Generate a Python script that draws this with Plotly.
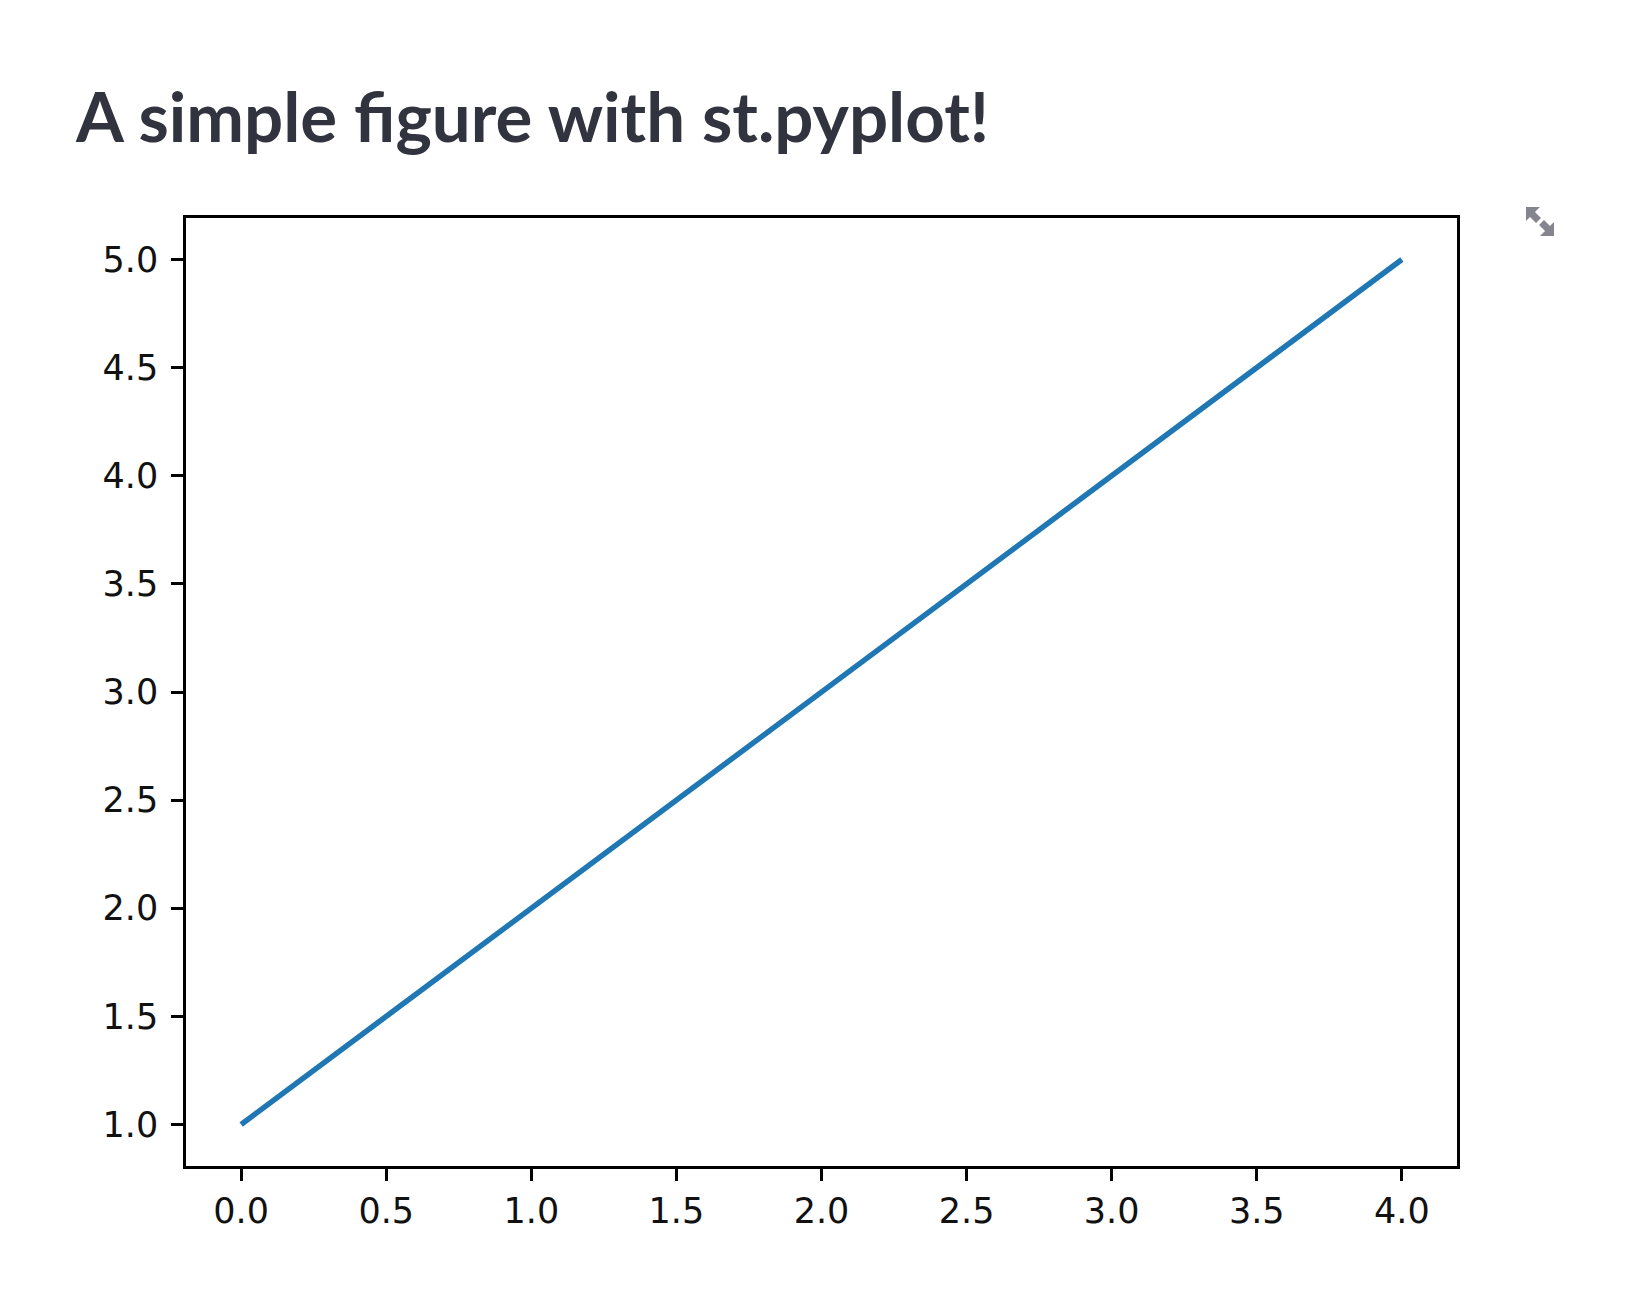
import plotly.graph_objects as go

x_values = [0, 1, 2, 3, 4]
y_values = [1, 2, 3, 4, 5]
x_ticks = [0.0, 0.5, 1.0, 1.5, 2.0, 2.5, 3.0, 3.5, 4.0]
y_ticks = [1.0, 1.5, 2.0, 2.5, 3.0, 3.5, 4.0, 4.5, 5.0]
title_text = "A simple figure with st.pyplot!"

WIDTH = 1635
HEIGHT = 1294
LEFT, RIGHT, TOP, BOTTOM = 178, 186, 210, 136

fig = go.Figure()
fig.add_trace(
    go.Scatter(
        x=x_values,
        y=y_values,
        mode="lines",
        line=dict(color="#1f77b4", width=5.5),
        showlegend=False,
    )
)

axis_style = dict(
    showgrid=False,
    zeroline=False,
    showline=True,
    mirror=True,
    linecolor="black",
    linewidth=2.5,
    ticks="outside",
    ticklen=12,
    tickwidth=2.5,
    tickcolor="black",
    tickformat=".1f",
    tickfont=dict(family="DejaVu Sans", size=35, color="#111111"),
)

# the frame is drawn outside the plot area, so the ranges are a bit tighter than 0.2
fig.update_xaxes(range=[-0.19, 4.19], tickvals=x_ticks, **axis_style)
fig.update_yaxes(range=[0.808, 5.192], tickvals=y_ticks, ticklabelstandoff=6, **axis_style)

fig.update_layout(
    width=WIDTH,
    height=HEIGHT,
    template="simple_white",
    paper_bgcolor="white",
    plot_bgcolor="white",
    margin=dict(l=LEFT, r=RIGHT, t=TOP, b=BOTTOM),
    title=dict(
        text=f"<b>{title_text}</b>",
        font=dict(family="Lato", size=69, color="#31333F"),
        x=68 / WIDTH,
        xanchor="left",
        y=1 - 110 / HEIGHT,
        yanchor="middle",
    ),
)


# expand icon in the top right corner, points are figure pixels
def px_path(points):
    plot_w = WIDTH - LEFT - RIGHT
    plot_h = HEIGHT - TOP - BOTTOM
    parts = [f"{(x - LEFT) / plot_w:.5f},{1 - (y - TOP) / plot_h:.5f}" for x, y in points]
    return "M" + " L".join(parts) + " Z"


icon_parts = [
    [(1518, 199), (1532, 199), (1527, 204), (1533, 210), (1528, 215), (1522, 209), (1518, 213)],
    [(1546, 228), (1532, 228), (1537, 223), (1531, 217), (1536, 212), (1542, 218), (1546, 214)],
]
for part in icon_parts:
    fig.add_shape(
        type="path",
        xref="paper",
        yref="paper",
        path=px_path(part),
        fillcolor="#85858f",
        opacity=1,
        line=dict(width=0),
    )

fig.write_html("out.html", config=dict(displayModeBar=False))
